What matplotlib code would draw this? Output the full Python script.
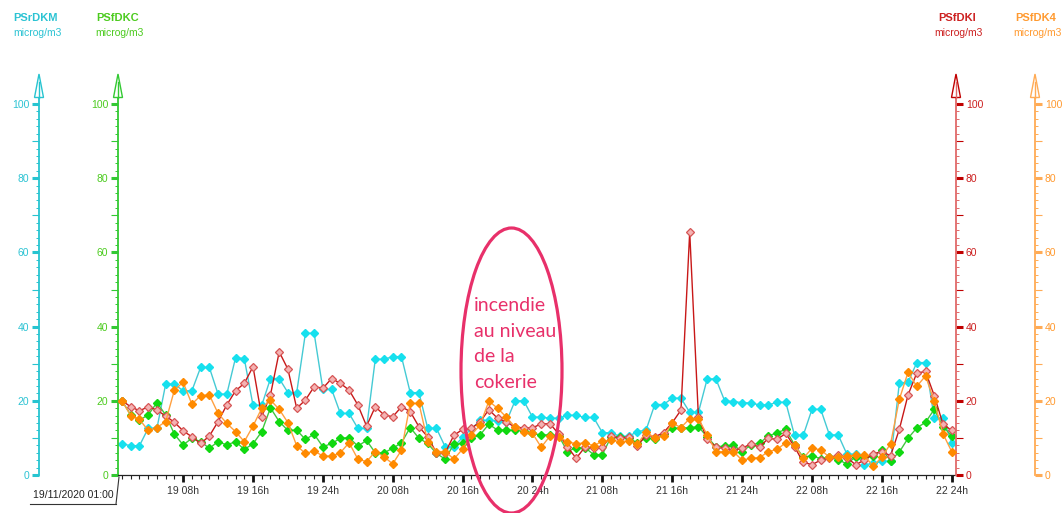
import numpy as np
import matplotlib.pyplot as plt
from matplotlib.patches import Ellipse, Polygon
from matplotlib.ticker import FixedLocator, MultipleLocator, FuncFormatter

plt.rcParams['font.family'] = ['Liberation Sans', 'DejaVu Sans']

# heures du 19/11/2020 01:00 au 22/11/2020 24:00
heures = np.arange(1, 97)

psrdkm = [8.4, 7.9, 7.9, 12.6, 12.6, 24.5, 24.5, 22.7, 22.7, 29.0, 29.0, 21.8,
          21.8, 31.6, 31.4, 18.8, 18.8, 26.0, 26.0, 22.2, 22.2, 38.2, 38.2, 23.1,
          23.1, 16.6, 16.6, 12.6, 12.6, 31.2, 31.2, 31.9, 31.9, 22.2, 22.2, 12.6,
          12.6, 7.6, 7.6, 10.2, 12.4, 14.7, 14.7, 14.6, 14.3, 20.0, 20.0, 15.6,
          15.6, 15.3, 15.3, 16.1, 16.1, 15.5, 15.5, 11.4, 11.4, 10.4, 10.4, 11.7,
          12.1, 19.0, 19.0, 20.7, 20.7, 16.9, 16.9, 25.9, 25.9, 20.0, 19.8, 19.5,
          19.4, 18.9, 18.9, 19.6, 19.6, 10.7, 10.7, 17.7, 17.7, 10.8, 10.8, 5.6,
          5.6, 2.8, 3.1, 3.7, 3.7, 24.8, 25.0, 30.3, 30.3, 15.3, 15.4, 8.6]

psfdkc = [20.0, 16.2, 14.8, 16.2, 19.5, 16.2, 11.0, 8.1, 9.9, 9.0, 7.2, 9.0,
          8.1, 9.0, 6.9, 8.4, 11.7, 18.1, 14.4, 12.0, 12.1, 9.6, 11.0, 7.6,
          8.5, 9.9, 10.1, 7.8, 9.3, 6.0, 6.0, 7.2, 8.7, 12.8, 9.9, 8.5,
          5.8, 4.3, 8.3, 8.5, 9.9, 10.8, 13.7, 12.1, 12.1, 12.1, 11.9, 11.2,
          10.8, 10.8, 10.6, 6.3, 7.4, 7.4, 5.5, 5.5, 10.3, 10.2, 10.1, 8.6,
          10.0, 9.7, 11.0, 12.6, 12.6, 12.8, 13.0, 10.3, 7.6, 7.8, 8.1, 6.3,
          8.1, 8.6, 10.5, 11.4, 12.3, 8.1, 4.8, 5.2, 4.4, 4.8, 4.1, 3.0,
          4.9, 4.9, 5.0, 6.8, 3.9, 6.2, 9.9, 12.7, 14.2, 17.7, 13.0, 10.6]

psfdki = [20.0, 18.4, 17.3, 18.4, 17.5, 15.9, 14.2, 11.9, 10.3, 8.5, 10.5, 14.4,
          18.9, 22.7, 24.7, 29.2, 15.7, 21.6, 33.2, 28.5, 18.0, 20.2, 23.8, 23.4,
          26.0, 24.7, 22.9, 18.9, 13.2, 18.4, 16.2, 15.7, 18.4, 17.1, 13.0, 10.3,
          6.0, 6.0, 10.7, 12.3, 12.6, 14.3, 17.6, 15.3, 14.3, 12.9, 12.7, 12.7,
          13.8, 13.8, 11.1, 7.6, 4.5, 7.5, 7.4, 7.6, 10.5, 9.9, 10.3, 7.8,
          10.8, 10.3, 11.4, 14.1, 17.5, 65.5, 15.5, 9.6, 7.6, 7.2, 6.7, 7.2,
          8.4, 7.5, 9.9, 9.6, 11.2, 7.6, 3.4, 2.8, 4.0, 4.6, 5.5, 4.6,
          2.8, 4.0, 5.7, 6.3, 5.2, 12.3, 21.6, 27.5, 27.9, 21.4, 13.7, 12.0]

psfdk4 = [20.0, 16.0, 15.0, 12.0, 12.8, 14.4, 22.9, 25.0, 19.1, 21.4, 21.6, 16.6,
          13.9, 11.7, 9.0, 13.2, 18.0, 20.2, 17.7, 14.1, 7.9, 5.8, 6.5, 5.1,
          5.1, 6.0, 8.7, 4.3, 3.6, 6.3, 4.9, 3.0, 6.7, 19.3, 19.3, 9.0,
          6.3, 6.3, 4.3, 7.0, 10.8, 13.5, 19.9, 18.0, 15.6, 12.9, 11.7, 11.2,
          7.5, 10.5, 10.2, 9.0, 8.4, 8.7, 7.9, 9.1, 9.4, 9.0, 9.2, 8.3,
          11.5, 10.1, 10.4, 14.0, 12.8, 15.2, 15.2, 10.8, 6.3, 6.3, 6.3, 4.0,
          4.5, 4.7, 6.3, 6.9, 8.7, 8.1, 4.5, 7.2, 6.8, 4.8, 4.8, 5.2,
          5.3, 5.3, 2.3, 4.9, 8.4, 20.4, 27.7, 23.9, 26.7, 19.9, 11.1, 6.3]

# graduations principales de l'axe du temps (toutes les 8 h)
h_ticks = list(range(8, 97, 8))
h_labels = [f"{19 + (h - 1) // 24} {(h - 1) % 24 + 1:02d}h" for h in h_ticks]

# couleurs : trait, marqueur, axe, texte
cyan = dict(line='#45cad4', mk='#16e0ee', axis='#27c4d0', txt='#2cc3d3')
vert = dict(line='#42c642', mk='#10d810', axis='#33c933', txt='#4ccb1f')
rouge = dict(line='#c81818', mk='#f4b2b2', edge='#d65555', axis='#e06a6a', tick='#c00000', txt='#cc2020')
orange = dict(line='#ffa040', mk='#ff8a00', axis='#ffab55', txt='#ff9a30')
rose = '#e8306a'

W, H = 1062, 513
x_vert, x_rouge, x_cyan, x_orange = 118, 956, 39, 1035
y_zero, y_haut = 475, 96.6
px_h = 8.734

fig = plt.figure(figsize=(W / 100, H / 100), dpi=100)
ax = fig.add_axes([x_vert / W, (H - y_zero) / H, (x_rouge - x_vert) / W, (y_zero - y_haut) / H])
ax.set_xlim(1 - (122 - x_vert) / px_h, 1 + (x_rouge - 122) / px_h)


def style_axe(a, side, pos, col, col_tick, col_txt):
    for s in a.spines.values():
        s.set_visible(False)
    sp = a.spines[side]
    sp.set_visible(True)
    sp.set_position(('axes', pos))
    sp.set_color(col)
    sp.set_linewidth(1.3)
    a.yaxis.set_ticks_position(side)
    a.set_ylim(0, 102)
    a.yaxis.set_major_locator(FixedLocator(range(0, 101, 10)))
    a.yaxis.set_major_formatter(FuncFormatter(lambda v, p: f'{v:.0f}' if v % 20 == 0 else ''))
    a.yaxis.set_minor_locator(MultipleLocator(2))
    a.tick_params(axis='y', which='major', length=5, width=0.8, color=col_tick,
                  labelcolor=col_txt, labelsize=7.5, pad=2)
    a.tick_params(axis='y', which='minor', length=2.5, width=0.7, color=col)
    for t, v in zip(a.yaxis.get_major_ticks(), range(0, 101, 10)):
        if v % 20 == 0:
            t.tick1line.set_markeredgewidth(2.2)
            t.tick2line.set_markeredgewidth(2.2)


style_axe(ax, 'left', 0, vert['axis'], vert['axis'], vert['txt'])
ax.patch.set_visible(False)

ax_c = ax.twinx()
style_axe(ax_c, 'left', (x_cyan - x_vert) / (x_rouge - x_vert), cyan['axis'], cyan['axis'], cyan['txt'])
ax_r = ax.twinx()
style_axe(ax_r, 'right', 1.0, rouge['axis'], rouge['tick'], rouge['txt'])
ax_o = ax.twinx()
style_axe(ax_o, 'right', (x_orange - x_vert) / (x_rouge - x_vert), orange['axis'], orange['axis'], orange['txt'])

ax_c.set_zorder(1)
ax.set_zorder(2)
ax_r.set_zorder(3)
ax_o.set_zorder(4)

# axe du temps
ax.spines['bottom'].set_visible(True)
ax.spines['bottom'].set_color('#222222')
ax.spines['bottom'].set_linewidth(0.9)
ax.xaxis.set_major_locator(FixedLocator(h_ticks))
ax.set_xticklabels(h_labels)
ax.xaxis.set_minor_locator(MultipleLocator(1))
ax.tick_params(axis='x', which='major', length=5, width=2, color='#111111',
               labelsize=7.5, labelcolor='#333333', pad=3)
ax.tick_params(axis='x', which='minor', length=3, width=0.8, color='#222222')

ms = 3.6
ax_c.plot(heures, psrdkm, color=cyan['line'], lw=1, marker='D', ms=ms,
          mfc=cyan['mk'], mec=cyan['mk'])
ax.plot(heures, psfdkc, color=vert['line'], lw=1, marker='D', ms=ms,
        mfc=vert['mk'], mec=vert['mk'])
ax_r.plot(heures, psfdki, color=rouge['line'], lw=1, marker='D', ms=ms,
          mfc=rouge['mk'], mec=rouge['edge'], mew=0.9)
ax_o.plot(heures, psfdk4, color=orange['line'], lw=1, marker='D', ms=ms,
          mfc=orange['mk'], mec=orange['mk'])

# calque pour les titres, flèches et annotation
ov = fig.add_axes([0, 0, 1, 1])
ov.set_zorder(10)
ov.patch.set_visible(False)
ov.set_xlim(0, W)
ov.set_ylim(H, 0)
ov.axis('off')

titres = [(x_cyan - 3, 'PSrDKM', cyan), (x_vert, 'PSfDKC', vert),
          (x_rouge + 1, 'PSfDKI', rouge), (x_orange + 1, 'PSfDK4', orange)]
for x, nom, c in titres:
    ov.text(x, 18, nom, ha='center', va='center', fontsize=8, fontweight='bold', color=c['txt'])
    ov.text(x + 1, 33, 'microg/m3', ha='center', va='center', fontsize=7.5, color=c['txt'])

for x, c in [(x_cyan, cyan), (x_vert, vert), (x_rouge, rouge), (x_orange, orange)]:
    ov.add_patch(Polygon([(x, 74), (x - 4.5, 97.5), (x + 4.5, 97.5)], closed=True,
                         fc='white', ec=c.get('tick', c['axis']), lw=1))
    ov.plot([x, x], [97.5, 82], color=c['axis'], lw=1)

ov.text(73, 495, '19/11/2020 01:00', ha='center', va='center', fontsize=7.5, color='#222222')
ov.plot([30, 116], [504, 504], color='#333333', lw=0.8)
ov.plot([116, 119], [504, 477], color='#333333', lw=0.8)

ov.add_patch(Ellipse((511.5, 370.5), 101, 285, fill=False, ec=rose, lw=2.3))
ov.text(474, 344, 'incendie\nau niveau\nde la\ncokerie', ha='left', va='center',
        fontsize=14, color=rose, linespacing=1.62, family=['Lato', 'DejaVu Sans'])

fig.savefig('out.png', dpi=100)
